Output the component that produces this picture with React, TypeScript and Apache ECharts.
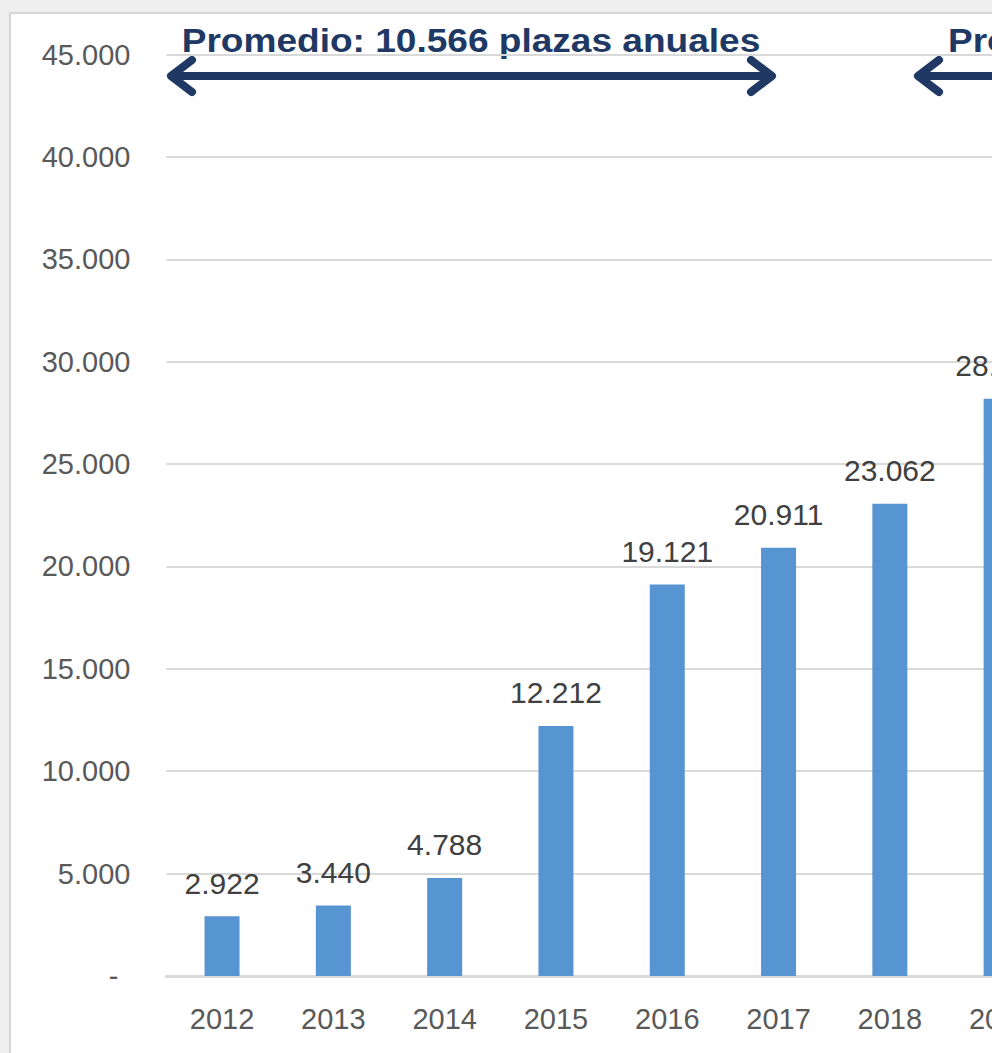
import React, { useEffect, useRef } from "react";
import * as echarts from "echarts";

const years = ["2012", "2013", "2014", "2015", "2016", "2017", "2018", "2019"];
const plazas = [2922, 3440, 4788, 12212, 19121, 20911, 23062, 28190];
const yTicks = { min: 0, max: 45000, interval: 5000 };
const avgLabel1 = "Promedio: 10.566 plazas anuales";
const avgLabel2 = "Promedio";

const fmt = (v: number) => String(Math.round(v)).replace(/\B(?=(\d{3})+(?!\d))/g, ".");

const NAVY = "#203864";
const FONT = "Liberation Sans, Arial, sans-serif";

export default function App() {
  const ref = useRef<HTMLDivElement>(null);
  useEffect(() => {
    if (!ref.current) return;
    const chart = echarts.init(ref.current, undefined, { renderer: "svg" });
    const chev = { stroke: NAVY, lineWidth: 8, lineCap: "round", lineJoin: "round", fill: "none" };
    chart.setOption({
      animation: false,
      grid: { left: 166.4, right: 1100 - 1056.8, top: 54.5, bottom: 1053 - 976 },
      xAxis: {
        type: "category",
        data: years,
        axisLine: { lineStyle: { color: "#d9d9d9", width: 3 } },
        axisTick: { show: false },
        axisLabel: { color: "#595959", fontSize: 29, fontFamily: FONT, margin: 28 },
      },
      yAxis: {
        type: "value",
        min: yTicks.min,
        max: yTicks.max,
        interval: yTicks.interval,
        axisLine: { show: false },
        axisTick: { show: false },
        splitLine: { lineStyle: { color: "#d9d9d9", width: 2 } },
        axisLabel: {
          color: "#595959",
          fontSize: 29,
          fontFamily: FONT,
          margin: 36,
          formatter: (v: number) => (v === 0 ? "{d|-}" : fmt(v)),
          rich: {
            d: { color: "#595959", fontSize: 29, fontFamily: FONT, padding: [0, 12, 0, 0] },
          },
        },
      },
      series: [
        {
          type: "bar",
          data: plazas,
          barWidth: 35,
          itemStyle: { color: "#5794d2" },
          label: {
            show: true,
            position: "top",
            distance: 18,
            color: "#404040",
            fontSize: 30,
            fontFamily: FONT,
            formatter: (p: any) => fmt(p.value),
          },
        },
      ],
      graphic: [
        {
          type: "text",
          x: 471,
          y: 41,
          scaleX: 1.09,
          style: {
            text: avgLabel1,
            fill: NAVY,
            font: `bold 34px ${FONT}`,
            textAlign: "center",
            textVerticalAlign: "middle",
          },
        },
        {
          type: "text",
          x: 948,
          y: 41,
          scaleX: 1.09,
          style: {
            text: avgLabel2,
            fill: NAVY,
            font: `bold 34px ${FONT}`,
            textAlign: "left",
            textVerticalAlign: "middle",
          },
        },
        { type: "line", shape: { x1: 174, y1: 76, x2: 769, y2: 76 }, style: { stroke: NAVY, lineWidth: 8, lineCap: "round" } },
        { type: "polyline", shape: { points: [[192, 60], [171, 76], [192, 92]] }, style: chev },
        { type: "polyline", shape: { points: [[751, 60], [772, 76], [751, 92]] }, style: chev },
        { type: "line", shape: { x1: 921, y1: 76, x2: 1100, y2: 76 }, style: { stroke: NAVY, lineWidth: 8, lineCap: "round" } },
        { type: "polyline", shape: { points: [[939, 60], [918, 76], [939, 92]] }, style: chev },
      ],
    });
    return () => chart.dispose();
  }, []);

  return (
    <div style={{ position: "fixed", left: 0, top: 0, width: 992, height: 1053, overflow: "hidden", background: "#efefef" }}>
      <div
        style={{
          position: "absolute",
          left: 9,
          top: 12,
          width: 1100,
          height: 1100,
          background: "#ffffff",
          borderLeft: "2px solid #d6d6d6",
          borderTop: "2px solid #d6d6d6",
        }}
      />
      <div ref={ref} style={{ position: "absolute", left: 0, top: 0, width: 1100, height: 1053 }} />
    </div>
  );
}
